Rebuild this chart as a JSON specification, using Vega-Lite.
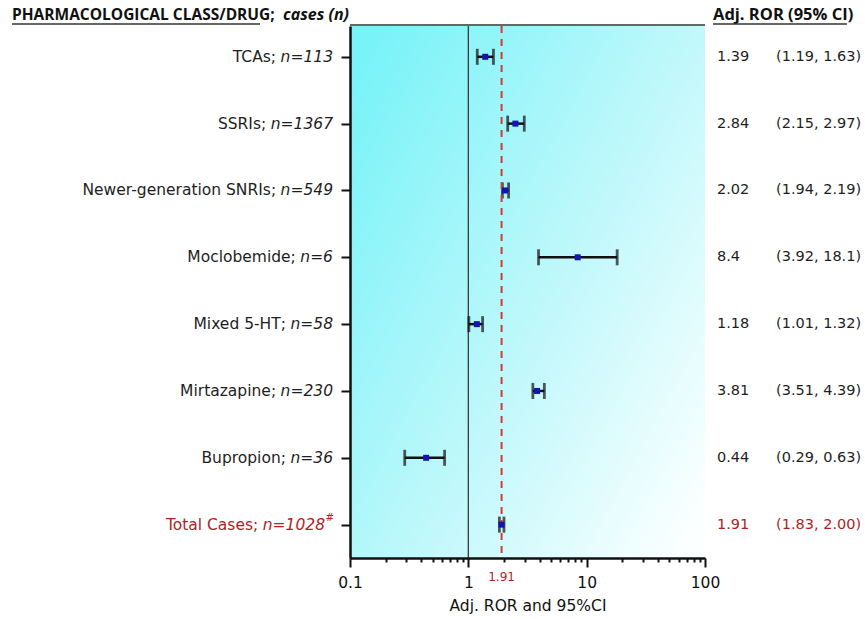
{
  "$schema": "https://vega.github.io/schema/vega-lite/v6.json",
  "width": 355,
  "height": 532,
  "autosize": "none",
  "padding": {"left": 350, "top": 26, "right": 160, "bottom": 61},
  "background": "white",
  "config": {"view": {"stroke": null}, "font": "DejaVu Sans"},
  "datasets": {
    "rows": [
      {"name": "TCAs;", "n": "n=113", "sup": "", "grp": "d", "est": 1.39, "lo": 1.19, "hi": 1.63, "ror": "1.39", "ci": "(1.19, 1.63)"},
      {"name": "SSRIs;", "n": "n=1367", "sup": "", "grp": "d", "est": 2.5, "lo": 2.15, "hi": 2.97, "ror": "2.84", "ci": "(2.15, 2.97)"},
      {"name": "Newer-generation SNRIs;", "n": "n=549", "sup": "", "grp": "d", "est": 2.04, "lo": 1.94, "hi": 2.19, "ror": "2.02", "ci": "(1.94, 2.19)"},
      {"name": "Moclobemide;", "n": "n=6", "sup": "", "grp": "d", "est": 8.4, "lo": 3.92, "hi": 18.1, "ror": "8.4", "ci": "(3.92, 18.1)"},
      {"name": "Mixed 5-HT;", "n": "n=58", "sup": "", "grp": "d", "est": 1.18, "lo": 1.01, "hi": 1.32, "ror": "1.18", "ci": "(1.01, 1.32)"},
      {"name": "Mirtazapine;", "n": "n=230", "sup": "", "grp": "d", "est": 3.81, "lo": 3.51, "hi": 4.39, "ror": "3.81", "ci": "(3.51, 4.39)"},
      {"name": "Bupropion;", "n": "n=36", "sup": "", "grp": "d", "est": 0.44, "lo": 0.29, "hi": 0.63, "ror": "0.44", "ci": "(0.29, 0.63)"},
      {"name": "Total Cases;", "n": "n=1028", "sup": "#", "grp": "t", "est": 1.91, "lo": 1.83, "hi": 2.0, "ror": "1.91", "ci": "(1.83, 2.00)"}
    ],
    "one": [{"v": 1}],
    "ref": [{"v": 1.91, "lab": "1.91"}],
    "hdr": [{"a": "PHARMACOLOGICAL CLASS/DRUG;", "b": " cases (n)", "c": "Adj. ROR (95% CI)"}]
  },
  "layer": [
    {
      "data": {"name": "one"},
      "mark": {"type": "rect", "fill": {"gradient": "linear", "x1": 0, "y1": 0.1, "x2": 1, "y2": 0.9, "stops": [{"offset": 0, "color": "#78f3f8"}, {"offset": 0.55, "color": "#c0f8fb"}, {"offset": 1, "color": "#fbffff"}]}},
      "encoding": {"x": {"value": 0}, "x2": {"value": "width"}, "y": {"value": 0}, "y2": {"value": "height"}}
    },
    {
      "data": {"name": "one"},
      "mark": {"type": "rule", "color": "#3a3a3a", "strokeWidth": 1.3},
      "encoding": {
        "x": {
          "field": "v", "type": "quantitative",
          "scale": {"type": "log", "domain": [0.1, 100]},
          "axis": {
            "title": "Adj. ROR and 95%CI",
            "values": [0.1, 0.2, 0.3, 0.4, 0.5, 0.6, 0.7, 0.8, 0.9, 1, 2, 3, 4, 5, 6, 7, 8, 9, 10, 20, 30, 40, 50, 60, 70, 80, 90, 100],
            "labelExpr": "indexof([0.1,1,10,100], datum.value) >= 0 ? '' + datum.value : ''",
            "tickSize": {"condition": {"test": "indexof([0.1,1,10,100], datum.value) >= 0", "value": 9}, "value": 4},
            "tickWidth": 2,
            "tickColor": "#111",
            "domainColor": "#111",
            "domainWidth": 2.5,
            "labelFont": "DejaVu Sans",
            "labelFontSize": 15.5,
            "labelColor": "#111",
            "labelPadding": 8,
            "labelFlush": false,
            "labelOverlap": false,
            "titleFont": "DejaVu Sans",
            "titleFontSize": 15.5,
            "titleFontWeight": "normal",
            "titleColor": "#111",
            "titlePadding": 8,
            "grid": false,
            "zindex": 1
          }
        }
      }
    },
    {
      "data": {"name": "rows"},
      "mark": {"type": "rule", "color": "#111", "strokeWidth": 2.5},
      "encoding": {
        "x": {"field": "lo", "type": "quantitative", "scale": {"type": "log", "domain": [0.1, 100]}},
        "x2": {"field": "hi"},
        "y": {
          "field": "name", "type": "nominal", "sort": null,
          "scale": {"type": "point", "padding": 0.48, "align": 0.48},
          "axis": {"labels": false, "title": null, "ticks": true, "tickSize": 9, "tickWidth": 2, "tickColor": "#111", "domainColor": "#111", "domainWidth": 2.5, "grid": false, "zindex": 1}
        }
      }
    },
    {
      "data": {"name": "rows"},
      "mark": {"type": "tick", "color": "#111", "size": 16, "thickness": 2.8},
      "encoding": {
        "x": {"field": "lo", "type": "quantitative", "scale": {"type": "log", "domain": [0.1, 100]}},
        "y": {"field": "name", "type": "nominal", "sort": null}
      }
    },
    {
      "data": {"name": "rows"},
      "mark": {"type": "tick", "color": "#111", "size": 16, "thickness": 2.8},
      "encoding": {
        "x": {"field": "hi", "type": "quantitative", "scale": {"type": "log", "domain": [0.1, 100]}},
        "y": {"field": "name", "type": "nominal", "sort": null}
      }
    },
    {
      "data": {"name": "ref"},
      "mark": {"type": "rule", "color": "#d23b3b", "strokeWidth": 2, "strokeDash": [7, 6]},
      "encoding": {"x": {"field": "v", "type": "quantitative", "scale": {"type": "log", "domain": [0.1, 100]}}}
    },
    {
      "data": {"name": "rows"},
      "mark": {"type": "square", "size": 36, "color": "#1414b4", "opacity": 1, "filled": true},
      "encoding": {
        "x": {"field": "est", "type": "quantitative", "scale": {"type": "log", "domain": [0.1, 100]}},
        "y": {"field": "name", "type": "nominal", "sort": null}
      }
    },
    {
      "data": {"name": "ref"},
      "mark": {"type": "text", "fontSize": 12, "color": "#b0221f", "baseline": "middle", "align": "center"},
      "encoding": {
        "x": {"field": "v", "type": "quantitative", "scale": {"type": "log", "domain": [0.1, 100]}},
        "y": {"value": 551},
        "text": {"field": "lab"}
      }
    },
    {
      "data": {"name": "rows"},
      "mark": {"type": "text", "align": "right", "baseline": "middle", "fontStyle": "italic", "fontSize": 15.5, "font": "DejaVu Sans", "dx": {"expr": "-8*length(datum.sup)"}},
      "encoding": {
        "x": {"value": -17},
        "y": {"field": "name", "type": "nominal", "sort": null},
        "text": {"field": "n"},
        "color": {"field": "grp", "type": "nominal", "scale": {"domain": ["d", "t"], "range": ["#1e1e1e", "#b0221f"]}, "legend": null}
      }
    },
    {
      "data": {"name": "rows"},
      "mark": {"type": "text", "align": "right", "baseline": "middle", "fontSize": 15.5, "font": "DejaVu Sans", "dx": {"expr": "-((1.472 + 0.636*(length(datum.n)-2))*15.5 + 8*length(datum.sup) + 4.5)"}},
      "encoding": {
        "x": {"value": -17},
        "y": {"field": "name", "type": "nominal", "sort": null},
        "text": {"field": "name"},
        "color": {"field": "grp", "type": "nominal", "scale": {"domain": ["d", "t"], "range": ["#1e1e1e", "#b0221f"]}, "legend": null}
      }
    },
    {
      "data": {"name": "rows"},
      "mark": {"type": "text", "align": "right", "baseline": "middle", "fontStyle": "italic", "fontSize": 10, "dy": -7, "font": "DejaVu Sans"},
      "encoding": {
        "x": {"value": -16},
        "y": {"field": "name", "type": "nominal", "sort": null},
        "text": {"field": "sup"},
        "color": {"field": "grp", "type": "nominal", "scale": {"domain": ["d", "t"], "range": ["#1e1e1e", "#b0221f"]}, "legend": null}
      }
    },
    {
      "data": {"name": "rows"},
      "mark": {"type": "text", "align": "left", "baseline": "middle", "fontSize": 14.5, "font": "DejaVu Sans"},
      "encoding": {
        "x": {"value": 367},
        "y": {"field": "name", "type": "nominal", "sort": null},
        "text": {"field": "ror"},
        "color": {"field": "grp", "type": "nominal", "scale": {"domain": ["d", "t"], "range": ["#1e1e1e", "#b0221f"]}, "legend": null}
      }
    },
    {
      "data": {"name": "rows"},
      "mark": {"type": "text", "align": "left", "baseline": "middle", "fontSize": 14.5, "font": "DejaVu Sans"},
      "encoding": {
        "x": {"value": 426},
        "y": {"field": "name", "type": "nominal", "sort": null},
        "text": {"field": "ci"},
        "color": {"field": "grp", "type": "nominal", "scale": {"domain": ["d", "t"], "range": ["#1e1e1e", "#b0221f"]}, "legend": null}
      }
    },
    {
      "data": {"name": "hdr"},
      "mark": {"type": "text", "align": "left", "baseline": "alphabetic", "font": "Open Sans", "fontWeight": 700, "fontSize": 15.5, "color": "#111"},
      "encoding": {"x": {"value": -338}, "y": {"value": -6}, "text": {"field": "a"}}
    },
    {
      "data": {"name": "hdr"},
      "mark": {"type": "text", "align": "right", "baseline": "alphabetic", "font": "Open Sans", "fontWeight": 700, "fontStyle": "italic", "fontSize": 16, "color": "#111"},
      "encoding": {"x": {"value": -1}, "y": {"value": -6}, "text": {"field": "b"}}
    },
    {
      "data": {"name": "hdr"},
      "mark": {"type": "text", "align": "left", "baseline": "alphabetic", "font": "Open Sans", "fontWeight": 700, "fontSize": 16.5, "color": "#111"},
      "encoding": {"x": {"value": 363}, "y": {"value": -6}, "text": {"field": "c"}}
    },
    {
      "data": {"name": "hdr"},
      "mark": {"type": "rule", "color": "#333", "strokeWidth": 1.5},
      "encoding": {"x": {"value": -338}, "x2": {"value": -90}, "y": {"value": -2}, "y2": {"value": -2}}
    },
    {
      "data": {"name": "hdr"},
      "mark": {"type": "rule", "color": "#333", "strokeWidth": 1.5},
      "encoding": {"x": {"value": 363}, "x2": {"value": 497}, "y": {"value": -2}, "y2": {"value": -2}}
    },
    {
      "data": {"name": "hdr"},
      "mark": {"type": "rule", "color": "#333", "strokeWidth": 1.5},
      "encoding": {"x": {"value": 0}, "x2": {"value": "width"}, "y": {"value": -1}, "y2": {"value": -1}}
    }
  ]
}
